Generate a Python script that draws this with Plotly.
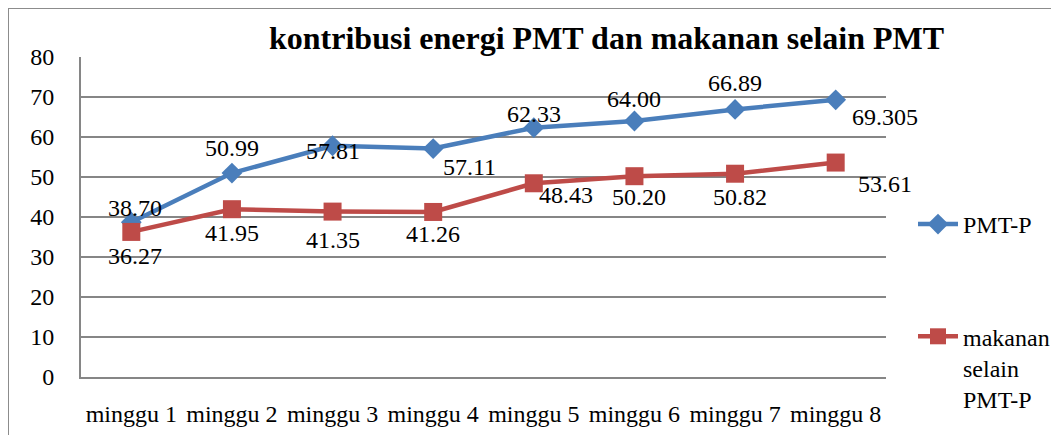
import plotly.graph_objects as go

categories = ["minggu 1", "minggu 2", "minggu 3", "minggu 4", "minggu 5", "minggu 6", "minggu 7", "minggu 8"]
pmt_p = [38.70, 50.99, 57.81, 57.11, 62.33, 64.00, 66.89, 69.305]
makanan = [36.27, 41.95, 41.35, 41.26, 48.43, 50.20, 50.82, 53.61]
pmt_labels = ["38.70", "50.99", "57.81", "57.11", "62.33", "64.00", "66.89", "69.305"]
makanan_labels = ["36.27", "41.95", "41.35", "41.26", "48.43", "50.20", "50.82", "53.61"]
y_ticks = [0, 10, 20, 30, 40, 50, 60, 70, 80]

# label offsets (pixels) relative to the point
pmt_off = [(4, 14), (0, 25), (0, -5), (36, -18), (0, 14), (0, 22), (0, 26), (49, -17)]
mak_off = [(4, -24), (0, -24), (0, -28), (0, -22), (32, -12), (5, -21), (5, -23), (49, -21)]

BLUE = "#4A7EBB"
RED = "#BE4B48"
FONT = "Liberation Serif"

# page has an 8px body margin; work in page coordinates and convert
OFF = 8
W, H = 1059 - OFF, 435 - OFF
L, R, T, B = 81 - OFF, 886 - OFF, 57 - OFF, 377 - OFF
pw, ph = R - L, B - T

def px(x):
    return (x - OFF - L) / pw

def py(y):
    return (B - (y - OFF)) / ph

fig = go.Figure()
fig.add_trace(go.Scatter(
    x=categories, y=pmt_p, mode="lines+markers", name="PMT-P",
    line=dict(color=BLUE, width=4.5),
    marker=dict(symbol="diamond", size=16, color=BLUE),
    legendgroup="a",
))
fig.add_trace(go.Scatter(
    x=categories, y=makanan, mode="lines+markers", name="makanan<br>selain<br>PMT-P",
    line=dict(color=RED, width=4.5),
    marker=dict(symbol="square", size=18, color=RED),
    legendgroup="b",
))

annotations = []
for c, v, t, (dx, dy) in zip(categories, pmt_p, pmt_labels, pmt_off):
    annotations.append(dict(x=c, y=v, text=t, showarrow=False, xshift=dx, yshift=dy,
                            font=dict(family=FONT, size=24, color="black")))
for c, v, t, (dx, dy) in zip(categories, makanan, makanan_labels, mak_off):
    annotations.append(dict(x=c, y=v, text=t, showarrow=False, xshift=dx, yshift=dy,
                            font=dict(family=FONT, size=24, color="black")))

annotations.append(dict(x=px(606), y=py(38), xref="paper", yref="paper", showarrow=False,
                        xanchor="center", yanchor="middle",
                        text="<b>kontribusi energi PMT dan makanan selain PMT</b>",
                        font=dict(family=FONT, size=32, color="black")))

fig.update_layout(
    width=W, height=H,
    margin=dict(l=L, r=W - R, t=T, b=H - B, autoexpand=False),
    paper_bgcolor="white", plot_bgcolor="white",
    font=dict(family=FONT, size=24, color="black"),
    showlegend=True,
    legend=dict(x=px(913), y=py(202), xanchor="left", yanchor="top",
                tracegroupgap=78, font=dict(family=FONT, size=24),
                bgcolor="rgba(0,0,0,0)", itemwidth=40, valign="top"),
    annotations=annotations,
    shapes=[dict(type="rect", xref="paper", yref="paper",
                 x0=px(8), x1=px(1070), y0=py(445), y1=py(8),
                 line=dict(color="#8C8C8C", width=2))],
)
fig.update_xaxes(
    type="category", range=[-0.5, 7.5], showgrid=False,
    showline=True, linecolor="#868686", linewidth=2,
    ticks="", ticklabelstandoff=14,
    tickfont=dict(family=FONT, size=24),
)
fig.update_yaxes(
    range=[0, 80], tickvals=y_ticks, showgrid=True, gridcolor="#868686", gridwidth=1.5,
    showline=True, linecolor="#868686", linewidth=2, zeroline=False,
    ticks="", ticklabelstandoff=20,
    tickfont=dict(family=FONT, size=24),
)

fig.write_html("out.html")
